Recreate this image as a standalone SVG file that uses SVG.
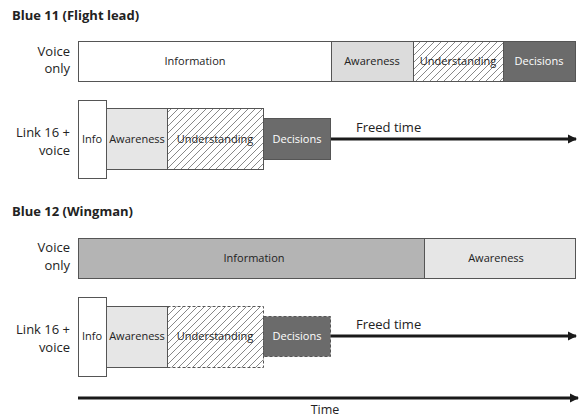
<svg xmlns="http://www.w3.org/2000/svg" width="581" height="418" viewBox="0 0 581 418">
<defs>
<pattern id="hatch" patternUnits="userSpaceOnUse" width="7" height="7">
<path d="M0,7 L7,0 M-1,1 L1,-1 M6,8 L8,6" stroke="#6a6a6a" stroke-width="0.8"/>
</pattern>
<marker id="arr" markerWidth="10" markerHeight="10" refX="8" refY="5" orient="auto" markerUnits="userSpaceOnUse">
<path d="M0,0.5 L9,5 L0,9.5 Z" fill="#1a1a1a"/>
</marker>
<style>
text{font-family:"Open Sans","Noto Sans","Liberation Sans",sans-serif;fill:#222}
.title{font-size:13px;font-weight:bold}
.lab{font-size:13px;text-anchor:end}
.t{font-size:11px;text-anchor:middle}
.w{fill:#fff}
.box{stroke:#555;stroke-width:1}
.dash{stroke:#555;stroke-width:1;stroke-dasharray:3,2}
.arrow{stroke:#1a1a1a;stroke-width:3;fill:none;marker-end:url(#arr)}
.ft{font-size:13px}
</style>
</defs>
<rect width="581" height="418" fill="#fff"/>

<text class="title" x="12" y="20">Blue 11 (Flight lead)</text>
<g id="row1-label"><text class="lab" x="70" y="56">Voice</text><text class="lab" x="70" y="73">only</text></g>
<g id="r1-information"><rect class="box" x="78.5" y="41.5" width="253" height="40" fill="#fff"/><text class="t" x="195" y="65">Information</text></g>
<g id="r1-awareness"><rect class="box" x="331.5" y="41.5" width="82" height="40" fill="#dcdcdc"/><text class="t" x="372" y="65">Awareness</text></g>
<g id="r1-understanding"><rect class="box" x="413.5" y="41.5" width="90" height="40" fill="url(#hatch)"/><text class="t" x="458" y="65">Understanding</text></g>
<g id="r1-decisions"><rect class="box" x="503.5" y="41.5" width="72" height="40" fill="#6b6b6b"/><text class="t w" x="539" y="65">Decisions</text></g>

<g id="row2-label"><text class="lab" x="70" y="137">Link 16 +</text><text class="lab" x="70" y="155">voice</text></g>
<g id="r2-info"><rect class="box" x="78.5" y="100.5" width="28" height="78" fill="#fff"/><text class="t" x="92" y="143">Info</text></g>
<g id="r2-awareness"><rect class="box" x="106.5" y="108.5" width="61" height="61" fill="#e6e6e6"/><text class="t" x="137" y="143">Awareness</text></g>
<g id="r2-understanding"><rect class="box" x="167.5" y="108.5" width="96" height="61" fill="url(#hatch)"/><text class="t" x="215" y="143">Understanding</text></g>
<g id="r2-decisions"><rect class="box" x="263.5" y="118.5" width="67" height="41" fill="#6b6b6b"/><text class="t w" x="297" y="143">Decisions</text></g>
<text class="ft" x="356" y="132">Freed time</text>

<text class="title" x="12" y="216">Blue 12 (Wingman)</text>
<g id="row3-label"><text class="lab" x="70" y="252">Voice</text><text class="lab" x="70" y="270">only</text></g>
<g id="r3-information"><rect class="box" x="78.5" y="238.5" width="346" height="40" fill="#b4b4b4"/><text class="t" x="254" y="262">Information</text></g>
<g id="r3-awareness"><rect class="box" x="424.5" y="238.5" width="151" height="40" fill="#e6e6e6"/><text class="t" x="496" y="262">Awareness</text></g>

<g id="row4-label"><text class="lab" x="70" y="334">Link 16 +</text><text class="lab" x="70" y="352">voice</text></g>
<g id="r4-info"><rect class="box" x="78.5" y="297.5" width="28" height="79" fill="#fff"/><text class="t" x="92" y="340">Info</text></g>
<g id="r4-awareness"><rect class="box" x="106.5" y="306.5" width="61" height="61" fill="#e6e6e6"/><text class="t" x="137" y="340">Awareness</text></g>
<g id="r4-understanding"><rect class="dash" x="167.5" y="306.5" width="96" height="61" fill="url(#hatch)"/><text class="t" x="215" y="340">Understanding</text></g>
<g id="r4-decisions"><rect class="dash" x="263.5" y="316.5" width="67" height="40" fill="#6b6b6b"/><text class="t w" x="297" y="340">Decisions</text></g>
<text class="ft" x="356" y="329">Freed time</text>

<g id="connectors">
<line class="arrow" x1="331" y1="139" x2="576" y2="139"/>
<line class="arrow" x1="331" y1="336" x2="576" y2="336"/>
<line class="arrow" x1="78" y1="398" x2="578" y2="398"/>
</g>
<text class="t" x="325" y="414" style="font-size:12.5px">Time</text>
</svg>
